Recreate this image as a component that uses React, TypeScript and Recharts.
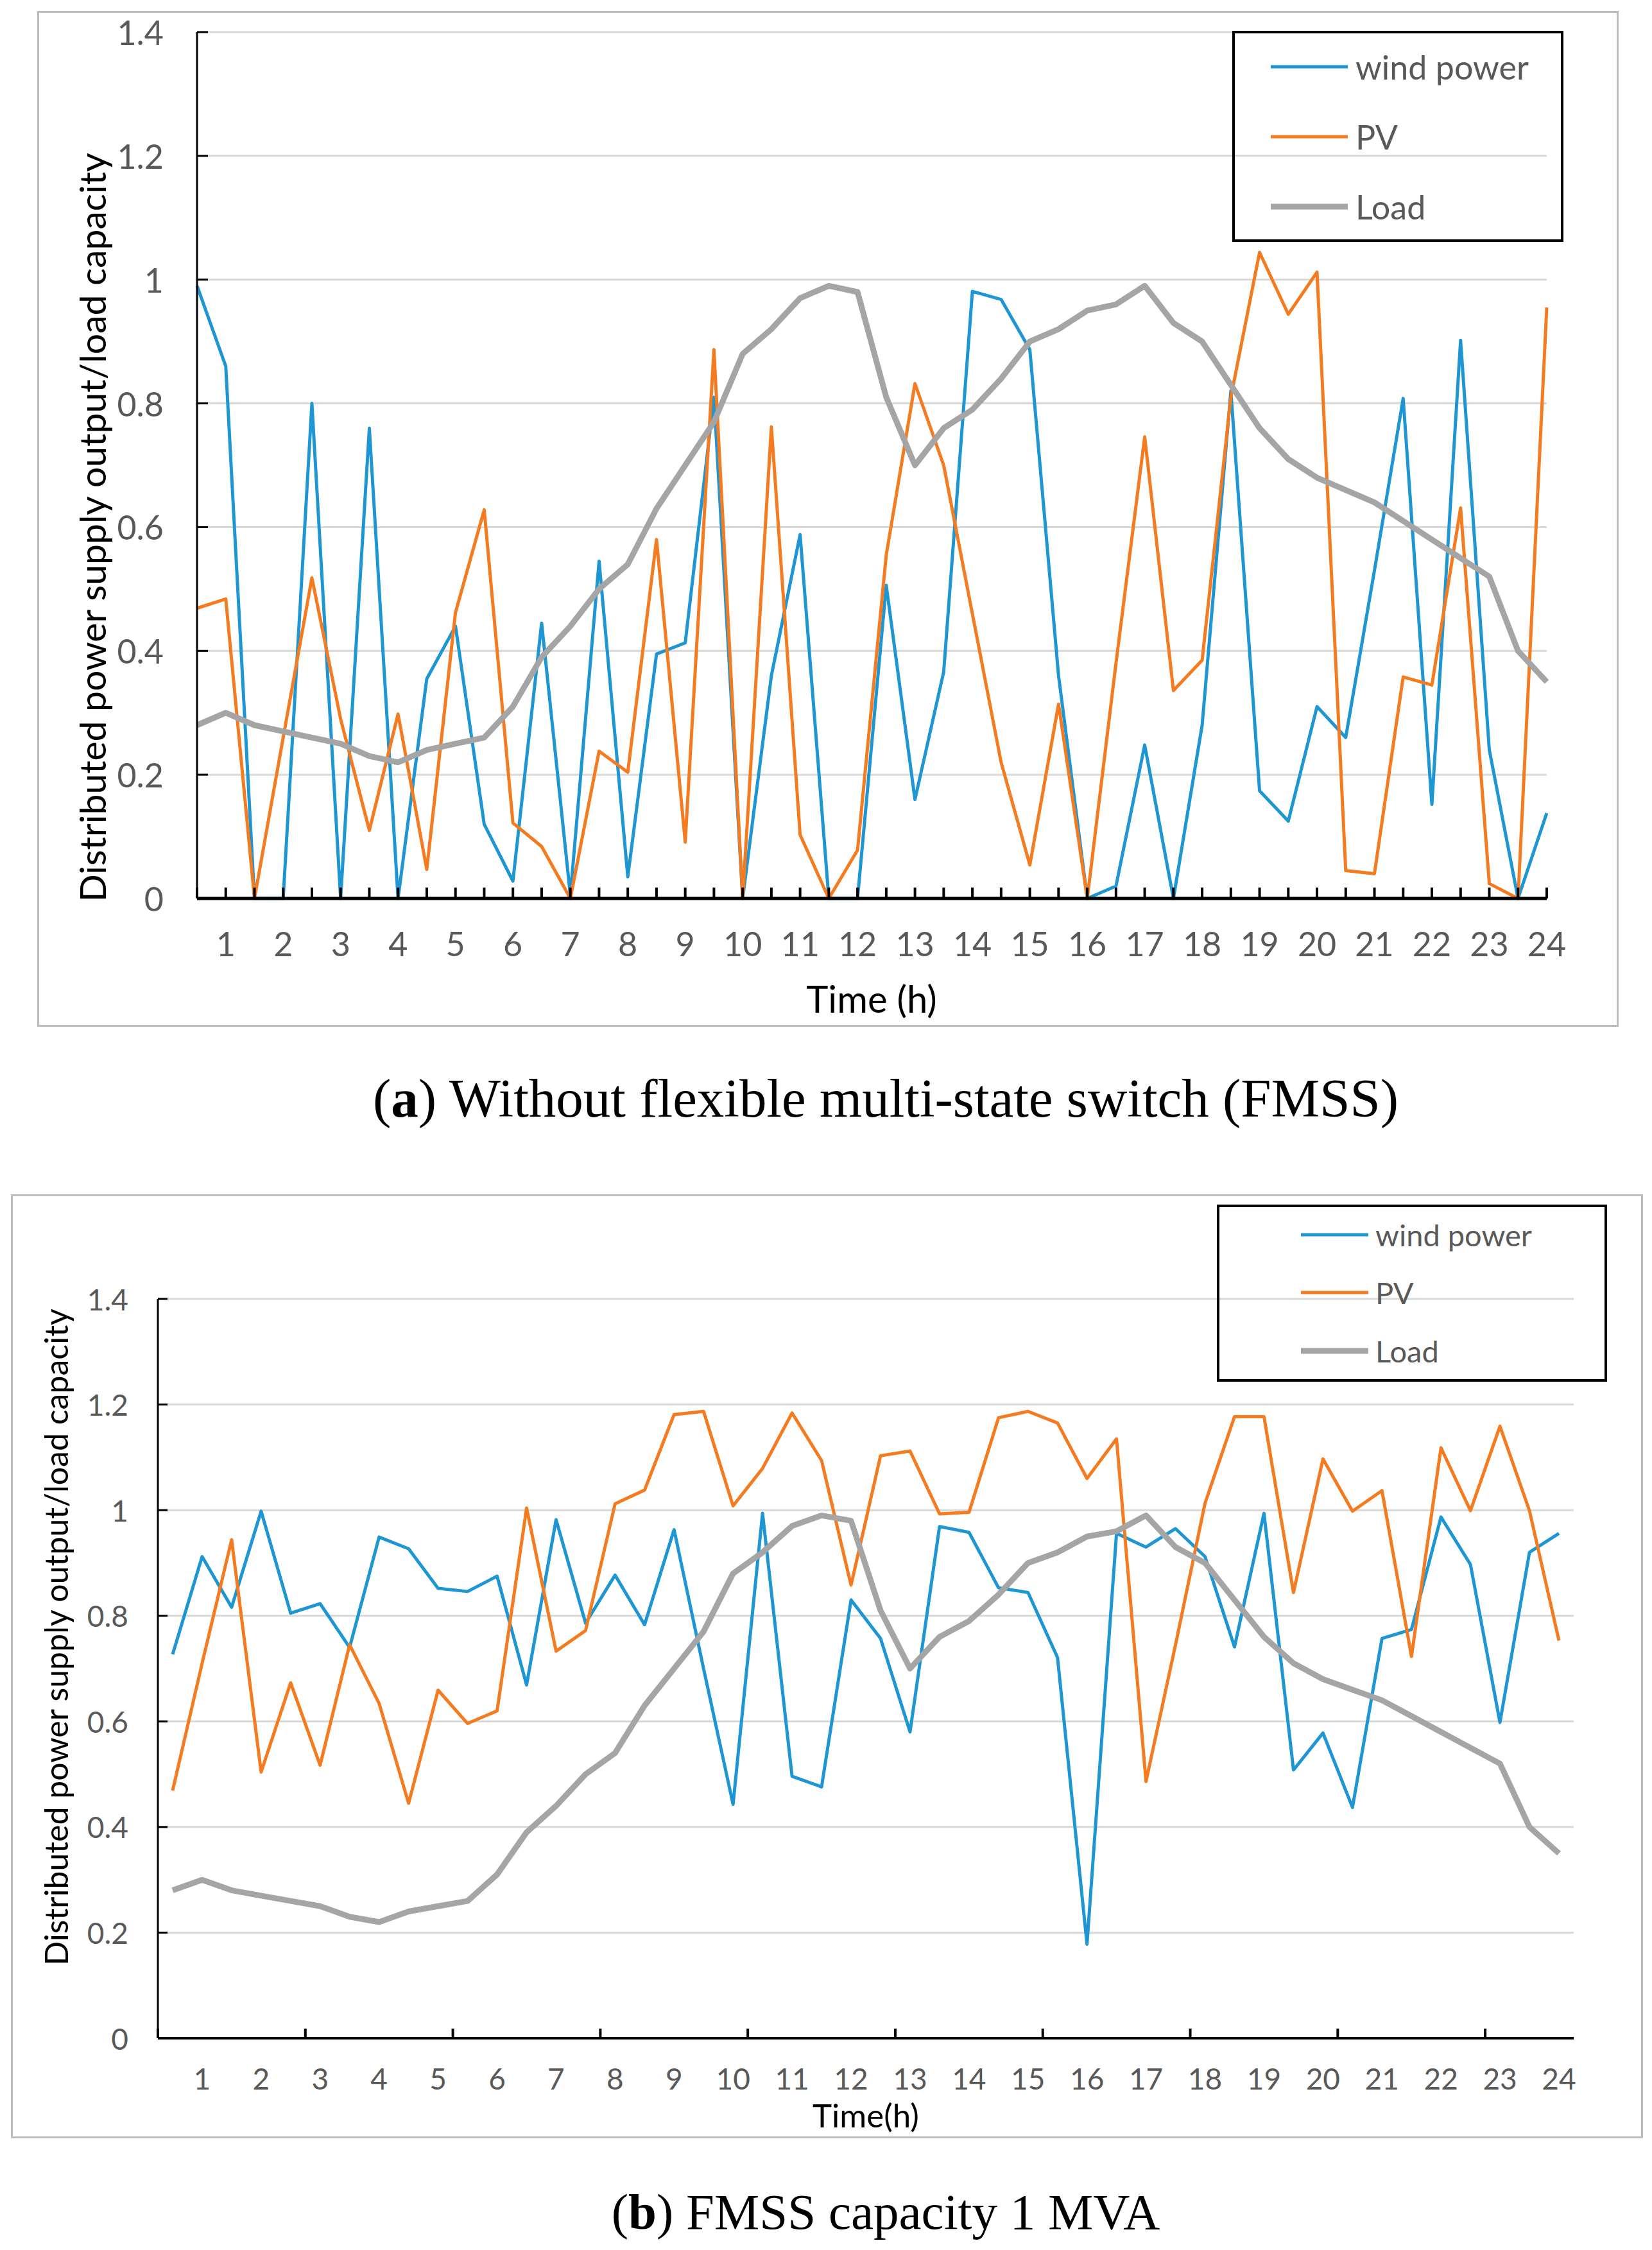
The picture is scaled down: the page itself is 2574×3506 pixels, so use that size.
import React from 'react';
import { LineChart, Line, XAxis, YAxis, CartesianGrid, Legend } from 'recharts';

// ---------- data ----------
const times = [
  0.5, 1, 1.5, 2, 2.5, 3, 3.5, 4, 4.5, 5, 5.5, 6, 6.5, 7, 7.5, 8, 8.5, 9, 9.5, 10, 10.5, 11, 11.5, 12,
  12.5, 13, 13.5, 14, 14.5, 15, 15.5, 16, 16.5, 17, 17.5, 18, 18.5, 19, 19.5, 20, 20.5, 21, 21.5, 22, 22.5, 23, 23.5, 24,
];
const hourTicks = [1, 2, 3, 4, 5, 6, 7, 8, 9, 10, 11, 12, 13, 14, 15, 16, 17, 18, 19, 20, 21, 22, 23, 24];
const tickMarksB = [0.25, 2.75, 5.25, 7.75, 10.25, 12.75, 15.25, 17.75, 20.25, 22.75];
const yTicks = [0, 0.2, 0.4, 0.6, 0.8, 1, 1.2, 1.4];

const windA = [
  0.99, 0.86, 0, 0, 0.8, 0, 0.76, 0, 0.355, 0.44, 0.12, 0.028, 0.445, 0.005, 0.545, 0.035, 0.395, 0.413, 0.81, 0, 0.36, 0.588, 0, 0,
  0.506, 0.16, 0.366, 0.981, 0.968, 0.887, 0.36, 0, 0.02, 0.248, 0, 0.28, 0.82, 0.174, 0.125, 0.31, 0.26, 0.53, 0.808, 0.152, 0.902, 0.24, 0, 0.138,
];
const pvA = [
  0.469, 0.484, 0, 0.26, 0.518, 0.29, 0.11, 0.298, 0.047, 0.462, 0.628, 0.122, 0.084, 0, 0.238, 0.204, 0.58, 0.091, 0.887, 0, 0.762, 0.103, 0, 0.078,
  0.555, 0.832, 0.7, 0.46, 0.22, 0.054, 0.314, 0, 0.38, 0.746, 0.336, 0.385, 0.81, 1.044, 0.944, 1.012, 0.045, 0.04, 0.358, 0.345, 0.631, 0.024, 0, 0.955,
];
const loadProfile = [
  0.28, 0.3, 0.28, 0.27, 0.26, 0.25, 0.23, 0.22, 0.24, 0.25, 0.26, 0.31, 0.39, 0.44, 0.5, 0.54, 0.63, 0.7, 0.77, 0.88, 0.92, 0.97, 0.99, 0.98,
  0.81, 0.7, 0.76, 0.79, 0.84, 0.9, 0.92, 0.95, 0.96, 0.99, 0.93, 0.9, 0.83, 0.76, 0.71, 0.68, 0.66, 0.64, 0.61, 0.58, 0.55, 0.52, 0.4, 0.35,
];
const windB = [
  0.727, 0.912, 0.816, 0.998, 0.805, 0.823, 0.74, 0.949, 0.927, 0.852, 0.846, 0.875, 0.669, 0.982, 0.786, 0.877, 0.783, 0.963, 0.7, 0.443, 0.994, 0.496, 0.476, 0.83,
  0.757, 0.58, 0.969, 0.958, 0.853, 0.844, 0.721, 0.178, 0.956, 0.93, 0.965, 0.912, 0.741, 0.994, 0.508, 0.578, 0.437, 0.757, 0.774, 0.987, 0.897, 0.598, 0.92, 0.956,
];
const pvB = [
  0.469, 0.71, 0.944, 0.504, 0.673, 0.517, 0.745, 0.634, 0.445, 0.659, 0.596, 0.62, 1.004, 0.733, 0.772, 1.012, 1.038, 1.181, 1.187, 1.008, 1.079, 1.184, 1.094, 0.858,
  1.103, 1.112, 0.993, 0.996, 1.175, 1.187, 1.165, 1.06, 1.135, 0.486, 0.745, 1.013, 1.177, 1.177, 0.844, 1.097, 0.998, 1.037, 0.723, 1.118, 0.999, 1.159, 0.999, 0.753,
];

const series = [
  { key: 'wind', name: 'wind power', color: '#1E96D4', width: 5 },
  { key: 'pv', name: 'PV', color: '#F47B20', width: 5 },
  { key: 'load', name: 'Load', color: '#A5A5A5', width: 9 },
];

const dataA = times.map((t, i) => ({ t, wind: windA[i], pv: pvA[i], load: loadProfile[i] }));
const dataB = times.map((t, i) => ({ t, wind: windB[i], pv: pvB[i], load: loadProfile[i] }));

const SANS = "Lato, 'Open Sans', sans-serif";
const TICK_GRAY = '#595959';

// ---------- custom ticks ----------
const makeXTick = (opts: { markAll: boolean; marks: number[]; len: number; gap: number; size: number }) =>
  (props: any) => {
    const { x, y, payload } = props;
    const v = payload.value;
    const isMark = opts.markAll || opts.marks.includes(v);
    const isLabel = hourTicks.includes(v);
    return (
      <g>
        {isMark && <line x1={x} x2={x} y1={y} y2={y - opts.len} stroke="#000" strokeWidth={4} />}
        {isLabel && (
          <text x={x} y={y + opts.gap} textAnchor="middle" dominantBaseline="central" fontFamily={SANS} fontSize={opts.size} fill={TICK_GRAY}>
            {String(v)}
          </text>
        )}
      </g>
    );
  };

const makeYTick = (opts: { len: number; gap: number; size: number }) => (props: any) => {
  const { x, y, payload } = props;
  return (
    <g>
      <line x1={x} x2={x + opts.len} y1={y} y2={y} stroke="#000" strokeWidth={3} />
      <text x={x - opts.gap} y={y} textAnchor="end" dominantBaseline="central" fontFamily={SANS} fontSize={opts.size} fill={TICK_GRAY}>
        {String(payload.value)}
      </text>
    </g>
  );
};

// ---------- legend ----------
const makeLegend = (cfg: { w: number; h: number; rows: number[]; x1: number; x2: number; tx: number; size: number }) =>
  (props: any) => {
    const payload = (props.payload || []) as any[];
    const ordered = series.map((s) => {
      const p = payload.find((e) => e.dataKey === s.key);
      return { ...s, color: p && p.color ? p.color : s.color, name: p && p.value ? p.value : s.name };
    });
    return (
      <svg width={cfg.w} height={cfg.h} style={{ display: 'block' }}>
        <rect x={2} y={2} width={cfg.w - 4} height={cfg.h - 4} fill="none" stroke="#000" strokeWidth={4} />
        {ordered.map((s, i) => (
          <g key={s.key}>
            <line x1={cfg.x1} x2={cfg.x2} y1={cfg.rows[i]} y2={cfg.rows[i]} stroke={s.color} strokeWidth={s.width} />
            <text x={cfg.tx} y={cfg.rows[i]} dominantBaseline="central" fontFamily={SANS} fontSize={cfg.size} fill={TICK_GRAY}>
              {s.name}
            </text>
          </g>
        ))}
      </svg>
    );
  };

const textLabel = (x: number, y: number, text: string, size: number, rotate: boolean) => () => (
  <text
    x={x}
    y={y}
    textAnchor="middle"
    dominantBaseline="central"
    fontFamily={SANS}
    fontSize={size}
    fill="#000"
    transform={rotate ? `rotate(-90 ${x} ${y})` : undefined}
  >
    {text}
  </text>
);

// ---------- charts ----------
const ChartA = () => (
  <LineChart width={2462} height={1582} data={dataA} margin={{ top: 32, right: 112, bottom: 0, left: 0 }}>
    <CartesianGrid vertical={false} stroke="#d9d9d9" strokeWidth={3} />
    <XAxis
      dataKey="t"
      type="number"
      domain={[0.5, 24]}
      ticks={times}
      interval={0}
      height={200}
      tickSize={0}
      tickMargin={0}
      tickLine={false}
      axisLine={{ stroke: '#000', strokeWidth: 5 }}
      tick={makeXTick({ markAll: true, marks: [], len: 17, gap: 70, size: 52 })}
      label={textLabel(1298, 1537, 'Time (h)', 58, false)}
    />
    <YAxis
      type="number"
      domain={[0, 1.4]}
      ticks={yTicks}
      interval={0}
      width={247}
      tickSize={0}
      tickMargin={0}
      tickLine={false}
      axisLine={{ stroke: '#000', strokeWidth: 3 }}
      tick={makeYTick({ len: 17, gap: 52, size: 52 })}
      label={textLabel(83, 804, 'Distributed power supply output/load capacity', 57, true)}
    />
    {series.map((s) => (
      <Line
        key={s.key}
        type="linear"
        dataKey={s.key}
        name={s.name}
        stroke={s.color}
        strokeWidth={s.width}
        strokeLinejoin="round"
        dot={false}
        activeDot={false}
        isAnimationActive={false}
      />
    ))}
    <Legend
      layout="vertical"
      align="center"
      verticalAlign="middle"
      wrapperStyle={{ left: 1860, top: 30, width: 516, height: 329 }}
      content={makeLegend({ w: 516, h: 329, rows: [56, 165, 274], x1: 60, x2: 180, tx: 192, size: 52 })}
    />
  </LineChart>
);

const ChartB = () => (
  <LineChart width={2541} height={1469} data={dataB} margin={{ top: 162, right: 107, bottom: 0, left: 0 }}>
    <CartesianGrid vertical={false} stroke="#d9d9d9" strokeWidth={3} />
    <XAxis
      dataKey="t"
      type="number"
      domain={[0.25, 24.25]}
      ticks={[...tickMarksB, ...hourTicks]}
      interval={0}
      height={155}
      tickSize={0}
      tickMargin={0}
      tickLine={false}
      axisLine={{ stroke: '#000', strokeWidth: 4 }}
      tick={makeXTick({ markAll: false, marks: tickMarksB, len: 15, gap: 62, size: 46 })}
      label={textLabel(1331, 1433, 'Time(h)', 51, false)}
    />
    <YAxis
      type="number"
      domain={[0, 1.4]}
      ticks={yTicks}
      interval={0}
      width={228}
      tickSize={0}
      tickMargin={0}
      tickLine={false}
      axisLine={{ stroke: '#000', strokeWidth: 3 }}
      tick={makeYTick({ len: 15, gap: 46, size: 46 })}
      label={textLabel(69, 689, 'Distributed power supply output/load capacity', 50, true)}
    />
    {series.map((s) => (
      <Line
        key={s.key}
        type="linear"
        dataKey={s.key}
        name={s.name}
        stroke={s.color}
        strokeWidth={s.width}
        strokeLinejoin="round"
        dot={false}
        activeDot={false}
        isAnimationActive={false}
      />
    ))}
    <Legend
      layout="vertical"
      align="center"
      verticalAlign="middle"
      wrapperStyle={{ left: 1878, top: 15, width: 608, height: 276 }}
      content={makeLegend({ w: 608, h: 276, rows: [47, 137, 228], x1: 131, x2: 236, tx: 247, size: 47 })}
    />
  </LineChart>
);

export default function App() {
  return (
    <div style={{ position: 'absolute', left: 0, top: 0, width: 2574, height: 3506, background: '#fff', overflow: 'hidden' }}>
      {/* frames */}
      <div style={{ position: 'absolute', left: 58, top: 17, width: 2464, height: 1583, border: '3px solid #bcbcbc', boxSizing: 'border-box' }} />
      <div style={{ position: 'absolute', left: 17, top: 1861, width: 2543, height: 1471, border: '3px solid #bcbcbc', boxSizing: 'border-box' }} />

      <div style={{ position: 'absolute', left: 60, top: 18 }}>
        <ChartA />
      </div>
      <div style={{ position: 'absolute', left: 18, top: 1862 }}>
        <ChartB />
      </div>

      {/* captions */}
      <svg width={2574} height={3506} style={{ position: 'absolute', left: 0, top: 0, pointerEvents: 'none' }}>
        <text x={1380} y={1740} textAnchor="middle" fontFamily="'Liberation Serif', 'Times New Roman', serif" fontSize={85} fill="#000">
          (<tspan fontWeight="bold">a</tspan>) Without flexible multi-state switch (FMSS)
        </text>
        <text x={1380} y={3473} textAnchor="middle" fontFamily="'Liberation Serif', 'Times New Roman', serif" fontSize={79} fill="#000">
          (<tspan fontWeight="bold">b</tspan>) FMSS capacity 1 MVA
        </text>
      </svg>
    </div>
  );
}
